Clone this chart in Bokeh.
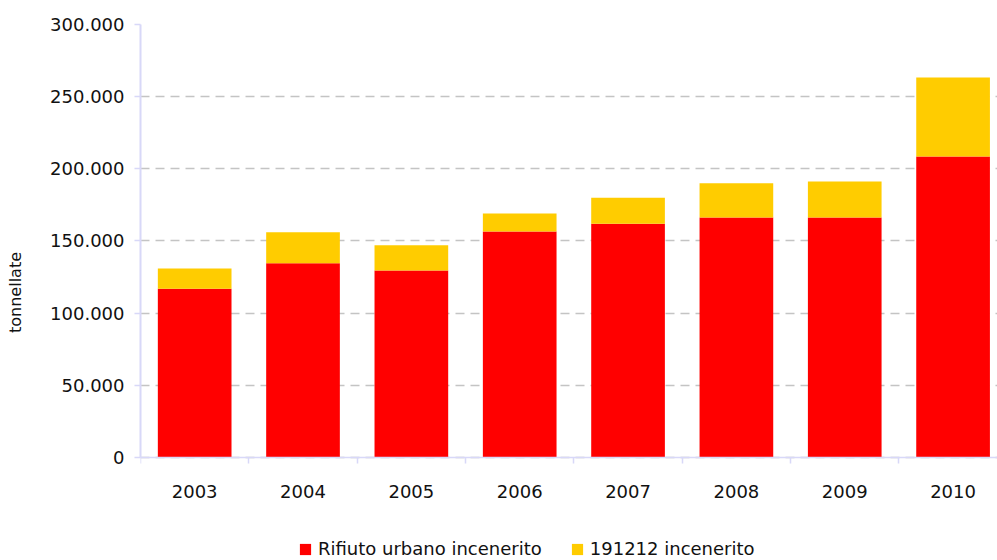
from bokeh.plotting import figure
from bokeh.models import ColumnDataSource, FixedTicker, Legend, LegendItem
from bokeh.embed import file_html
from bokeh.resources import INLINE

years = ["2003", "2004", "2005", "2006", "2007", "2008", "2009", "2010"]
rifiuto_urbano = [117000, 134500, 129500, 156500, 162000, 166300, 166300, 208500]
cer_191212 = [14000, 21500, 17500, 12500, 18000, 23700, 24900, 54800]
y_ticks = [0, 50000, 100000, 150000, 200000, 250000, 300000]
y_tick_labels = ["0", "50.000", "100.000", "150.000", "200.000", "250.000", "300.000"]
series_labels = ["Rifiuto urbano incenerito", "191212 incenerito"]
series_colors = ["#ff0000", "#ffcc00"]

xs = list(range(len(years)))
src = ColumnDataSource(dict(x=xs, rifiuto=rifiuto_urbano, c191212=cer_191212))

FONT = "DejaVu Sans"

# frame spans down to the bottom of the figure so the legend below the axis is not clipped;
# the value 0 sits 103px above the bottom edge.
p = figure(width=997, height=560, output_backend="svg", toolbar_location=None,
           x_range=(-0.5, 7.41), y_range=(-71363, 300000),
           min_border_left=140, min_border_right=0, min_border_top=24,
           min_border_bottom=0)
p.outline_line_color = None
p.background_fill_color = "white"
p.border_fill_color = "white"

rs = p.vbar_stack(["rifiuto", "c191212"], x="x", width=0.68, color=series_colors,
                  line_color=None, source=src)

# x axis, pinned at y = 0
p.xaxis.fixed_location = 0
p.xaxis.ticker = FixedTicker(ticks=xs, minor_ticks=[i - 0.5 for i in range(len(years) + 1)])
p.xaxis.major_label_overrides = {i: y for i, y in enumerate(years)}
p.xaxis.major_tick_line_color = None
p.xaxis.major_tick_out = 0
p.xaxis.major_tick_in = 0
p.xaxis.minor_tick_in = 0
p.xaxis.minor_tick_out = 6
p.xaxis.minor_tick_line_color = "#d8d8f8"
p.xaxis.minor_tick_line_width = 1.5
p.xaxis.axis_line_color = "#d8d8f8"
p.xaxis.axis_line_width = 1.5
p.xaxis.major_label_standoff = 22
p.xaxis.major_label_text_font = FONT
p.xaxis.major_label_text_font_size = "18px"
p.xaxis.major_label_text_color = "#111111"

# y axis
p.yaxis.bounds = (0, 300000)
p.yaxis.ticker = FixedTicker(ticks=y_ticks)
p.yaxis.major_label_overrides = {t: l for t, l in zip(y_ticks, y_tick_labels)}
p.yaxis.minor_tick_line_color = None
p.yaxis.major_tick_in = 0
p.yaxis.major_tick_out = 6
p.yaxis.major_tick_line_color = "#d8d8f8"
p.yaxis.major_tick_line_width = 1.5
p.yaxis.axis_line_color = "#d8d8f8"
p.yaxis.axis_line_width = 2
p.yaxis.major_label_standoff = 10
p.yaxis.major_label_text_font = FONT
p.yaxis.major_label_text_font_size = "18px"
p.yaxis.major_label_text_color = "#111111"
p.yaxis.axis_label = "tonnellate"
p.yaxis.axis_label_text_font = FONT
p.yaxis.axis_label_text_font_size = "16px"
p.yaxis.axis_label_text_font_style = "normal"
p.yaxis.axis_label_text_color = "#111111"
p.yaxis.axis_label_standoff = 22

p.xgrid.grid_line_color = None
p.ygrid.grid_line_color = "#c4c4c4"
p.ygrid.grid_line_dash = "9 6"
p.ygrid.grid_line_width = 1.5

legend = Legend(items=[LegendItem(label=series_labels[0], renderers=[rs[0]]),
                       LegendItem(label=series_labels[1], renderers=[rs[1]])],
                orientation="horizontal", location=(158, 1))
legend.label_text_font = FONT
legend.label_text_font_size = "18px"
legend.label_text_color = "#111111"
legend.glyph_width = 14
legend.glyph_height = 14
legend.label_standoff = 6
legend.spacing = 28
legend.border_line_color = None
legend.background_fill_alpha = 0
legend.margin = 0
legend.padding = 0
p.add_layout(legend, "center")

open("out.html", "w").write(file_html(p, INLINE))
